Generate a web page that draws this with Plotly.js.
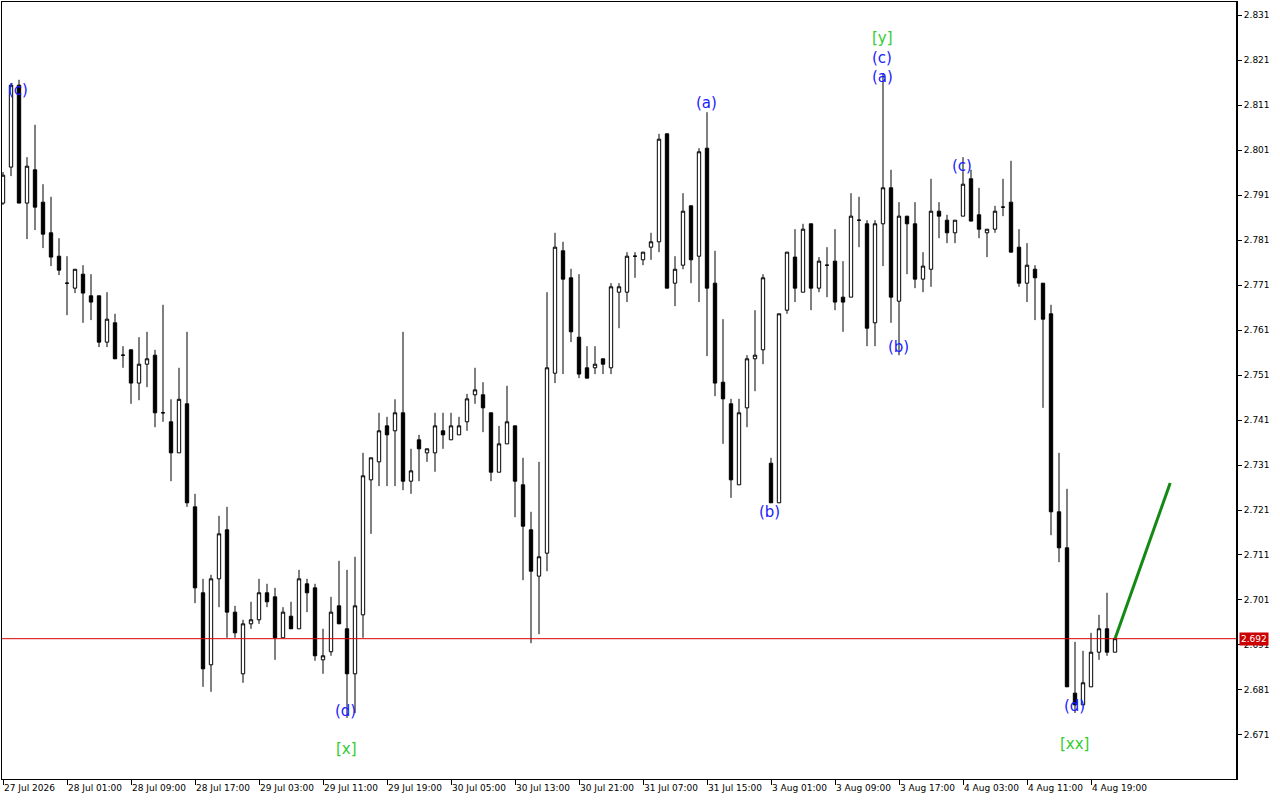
<!DOCTYPE html>
<html>
<head>
<meta charset="utf-8">
<script src="https://cdn.plot.ly/plotly-3.0.1.min.js"></script>
<style>html,body{margin:0;padding:0;background:#fff;}#chart{width:1280px;height:800px;}</style>
</head>
<body>
<div id="chart"></div>
<script>
const openP = [2.7892,2.7972,2.8154,2.7892,2.7966,2.7894,2.7826,2.7774,2.7714,2.7703,
2.7734,2.7686,2.7686,2.7583,2.7626,2.7554,2.7566,2.7492,2.7534,2.7554,
2.7426,2.7406,2.7337,2.7446,2.7217,2.7026,2.6866,2.7057,2.7166,2.6983,
2.6846,2.6957,2.6966,2.7026,2.7017,2.6926,2.6974,2.6946,2.7046,2.7037,
2.6877,2.6895,2.6997,2.6946,2.6846,2.6977,2.7277,2.7317,2.7397,2.7386,
2.7426,2.7274,2.7366,2.7337,2.7337,2.7386,2.7366,2.7377,2.7406,2.7466,
2.7466,2.7426,2.7294,2.7357,2.7397,2.7266,2.7166,2.7063,2.7114,2.7514,
2.7786,2.7726,2.7594,2.7526,2.7526,2.7546,2.7526,2.7694,2.7694,2.7774,
2.7766,2.7794,2.7806,2.8046,2.7714,2.7754,2.7886,2.7774,2.8014,2.7714,
2.7494,2.7446,2.7266,2.7437,2.7546,2.7566,2.7314,2.7226,2.7654,2.7772,
2.7694,2.7846,2.7703,2.7754,2.7763,2.7683,2.7683,2.7854,2.7846,2.7626,
2.7846,2.7926,2.7674,2.7863,2.7846,2.7723,2.7745,2.7874,2.7854,2.7826,
2.7863,2.7946,2.7866,2.7826,2.7834,2.7883,2.7894,2.7794,2.7714,2.7745,
2.7714,2.7646,2.7206,2.7126,2.6803,2.6777,2.6817,2.6894,2.6946,2.6894];
const highP = [2.7961,2.8159,2.8166,2.7994,2.8066,2.7934,2.7906,2.7814,2.7774,2.7745,
2.7754,2.7734,2.7686,2.7694,2.7646,2.7574,2.7566,2.7594,2.7606,2.7566,
2.7666,2.7456,2.7526,2.7606,2.7246,2.7057,2.7066,2.7197,2.7217,2.6997,
2.6966,2.7006,2.7057,2.7046,2.7037,2.6994,2.7006,2.7077,2.7057,2.7046,
2.6946,2.7017,2.7097,2.7077,2.7106,2.7337,2.7326,2.7426,2.7417,2.7456,
2.7606,2.7346,2.7377,2.7346,2.7426,2.7426,2.7426,2.7417,2.7468,2.7526,
2.7494,2.7426,2.7397,2.7486,2.7397,2.7326,2.7206,2.7317,2.7694,2.7826,
2.7806,2.7746,2.7734,2.7574,2.7574,2.7546,2.7714,2.7714,2.7783,2.7783,
2.7783,2.7826,2.8046,2.8046,2.7774,2.7914,2.7886,2.8014,2.8094,2.7786,
2.7634,2.7457,2.7457,2.7554,2.7654,2.7734,2.7326,2.7646,2.7783,2.7834,
2.7846,2.7846,2.7772,2.7794,2.7834,2.7763,2.7914,2.7906,2.7854,2.7854,
2.8181,2.7966,2.7894,2.7863,2.7894,2.7783,2.7946,2.7894,2.7866,2.7854,
2.7994,2.7966,2.7926,2.7834,2.7886,2.7946,2.7986,2.7834,2.7803,2.7754,
2.7714,2.7666,2.7337,2.7257,2.6917,2.6897,2.6937,2.6977,2.7026,2.6924];
const lowP = [2.7888,2.7952,2.7892,2.7812,2.7832,2.7792,2.7752,2.7732,2.7643,2.7692,
2.7626,2.7632,2.7572,2.7572,2.7546,2.7526,2.7446,2.7454,2.7483,2.7394,
2.7406,2.7274,2.7337,2.7217,2.7003,2.6817,2.6806,2.6994,2.6926,2.6926,
2.6826,2.6946,2.6957,2.6994,2.6877,2.6926,2.6946,2.6946,2.6983,2.6875,
2.6846,2.6886,2.6957,2.6748,2.6759,2.6926,2.7157,2.7263,2.7263,2.7263,
2.7254,2.7246,2.7274,2.7317,2.7295,2.7346,2.7366,2.7377,2.7386,2.7446,
2.7383,2.7274,2.7294,2.7357,2.7194,2.7054,2.6914,2.6934,2.7074,2.7492,
2.7512,2.7583,2.7503,2.7503,2.7512,2.7512,2.7512,2.7614,2.7672,2.7726,
2.7754,2.7766,2.7783,2.7703,2.7663,2.7745,2.7714,2.7672,2.7552,2.7463,
2.7357,2.7237,2.7266,2.7394,2.7474,2.7534,2.7226,2.7226,2.7646,2.7672,
2.7694,2.7654,2.7694,2.7683,2.7654,2.7606,2.7683,2.7794,2.7574,2.7574,
2.7752,2.7626,2.7554,2.7734,2.7703,2.7694,2.7706,2.7814,2.7803,2.7803,
2.7863,2.7852,2.7814,2.7772,2.7826,2.7863,2.7783,2.7706,2.7672,2.7632,
2.7437,2.7154,2.7094,2.6817,2.6759,2.6777,2.6817,2.6877,2.6886,2.6894];
const closeP = [2.7954,2.8154,2.7892,2.7974,2.7883,2.7823,2.7772,2.7743,2.7714,2.7745,
2.7692,2.7672,2.7583,2.7634,2.7546,2.7554,2.7492,2.7534,2.7546,2.7426,
2.7426,2.7337,2.7456,2.7226,2.7037,2.6857,2.7057,2.7157,2.6983,2.6937,
2.6957,2.6966,2.7026,2.7006,2.6926,2.6983,2.6946,2.7057,2.7026,2.6886,
2.6886,2.6983,2.6957,2.6846,2.6997,2.7286,2.7326,2.7386,2.7377,2.7426,
2.7274,2.7297,2.7346,2.7346,2.7397,2.7377,2.7397,2.7397,2.7457,2.7477,
2.7437,2.7294,2.7357,2.7406,2.7274,2.7174,2.7074,2.7106,2.7526,2.7794,
2.7723,2.7606,2.7512,2.7503,2.7534,2.7534,2.7706,2.7706,2.7774,2.7774,
2.7783,2.7806,2.8034,2.7703,2.7745,2.7874,2.7766,2.8006,2.7703,2.7492,
2.7457,2.7277,2.7426,2.7546,2.7554,2.7726,2.7226,2.7646,2.7783,2.7703,
2.7834,2.7703,2.7763,2.7754,2.7672,2.7672,2.7863,2.7854,2.7614,2.7846,
2.7926,2.7683,2.7863,2.7846,2.7723,2.7752,2.7874,2.7863,2.7826,2.7854,
2.7934,2.7852,2.7834,2.7834,2.7874,2.7883,2.7783,2.7714,2.7754,2.7726,
2.7634,2.7206,2.7126,2.6817,2.6777,2.6826,2.6894,2.6946,2.6894,2.6924];

const timeTickIdx = [0,8,16,24,32,40,48,56,64,72,80,88,96,104,112,120,128,136];
const timeTickText = ["27 Jul 2026","28 Jul 01:00","28 Jul 09:00","28 Jul 17:00","29 Jul 03:00",
"29 Jul 11:00","29 Jul 19:00","30 Jul 05:00","30 Jul 13:00","30 Jul 21:00","31 Jul 07:00",
"31 Jul 15:00","3 Aug 01:00","3 Aug 09:00","3 Aug 17:00","4 Aug 03:00","4 Aug 11:00","4 Aug 19:00"];
const priceTicks = [2.671,2.681,2.691,2.701,2.711,2.721,2.731,2.741,2.751,2.761,2.771,2.781,2.791,2.801,2.811,2.821,2.831];

const waveText  = ["(c)","(d)","[x]","(a)","(b)","[y]","(c)","(a)","(b)","(c)","(d)","[xx]"];
const waveIdx   = [1.9,42.75,42.9,87.9,95.75,109.9,109.9,109.9,111.9,119.9,133.9,133.9];
const wavePrice = [2.8143,2.6763,2.6679,2.8114,2.7206,2.8260,2.8215,2.8172,2.7572,2.7974,2.6774,2.6690];
const waveGreen = [false,false,true,false,false,true,false,false,false,false,false,true];

const projIdx = [139, 145.9];
const projPrice = [2.6924, 2.7270];
const lastPrice = 2.6924;
const lastPriceText = "2.692";

const xs = openP.map((_, i) => i);

const candles = {
  type: 'candlestick', x: xs, open: openP, high: highP, low: lowP, close: closeP,
  line: {width: 1},
  increasing: {line: {color: '#000000', width: 1}, fillcolor: '#ffffff'},
  decreasing: {line: {color: '#000000', width: 1}, fillcolor: '#000000'},
  whiskerwidth: 0, hoverinfo: 'skip', showlegend: false
};
const proj = {
  type: 'scatter', mode: 'lines', x: projIdx, y: projPrice,
  line: {color: '#138a13', width: 3}, hoverinfo: 'skip', showlegend: false
};

const annotations = waveText.map((t, i) => ({
  x: waveIdx[i], y: wavePrice[i], xref: 'x', yref: 'y', text: t, showarrow: false,
  font: {family: 'DejaVu Sans, sans-serif', size: 15, color: waveGreen[i] ? '#32cd32' : '#1a1aff'},
  xanchor: 'center', yanchor: 'middle'
}));
annotations.push({
  x: 1, xref: 'paper', y: lastPrice, yref: 'y', text: lastPriceText, showarrow: false,
  xanchor: 'left', yanchor: 'middle', xshift: 2, bgcolor: '#cc0000', borderpad: 1,
  font: {family: 'DejaVu Sans, sans-serif', size: 9, color: '#ffffff'}
});

const layout = {
  width: 1280, height: 800,
  margin: {l: 2, r: 43, t: 2, b: 21, pad: 0},
  paper_bgcolor: '#ffffff', plot_bgcolor: '#ffffff',
  showlegend: false, boxgap: 0.4,
  font: {family: 'DejaVu Sans, sans-serif', size: 9, color: '#000000'},
  xaxis: {
    range: [-0.125, 154.25], type: 'linear', rangeslider: {visible: false},
    showgrid: false, zeroline: false, showline: true, mirror: true,
    linecolor: '#000000', linewidth: 1,
    tickmode: 'array', tickvals: timeTickIdx, ticktext: timeTickText,
    ticks: 'outside', ticklen: 5, tickcolor: '#000000', tickwidth: 1,
    ticklabelposition: 'outside right', tickangle: 0, automargin: false,
    tickfont: {family: 'DejaVu Sans, sans-serif', size: 9, color: '#000000'}
  },
  yaxis: {
    range: [2.66122, 2.83389], side: 'right',
    showgrid: false, zeroline: false, showline: true, mirror: true,
    linecolor: '#000000', linewidth: 1,
    tickmode: 'array', tickvals: priceTicks, ticktext: priceTicks.map(v => v.toFixed(3)),
    ticks: 'outside', ticklen: 4, tickcolor: '#000000', tickwidth: 1,
    tickfont: {family: 'DejaVu Sans, sans-serif', size: 9, color: '#000000'}
  },
  shapes: [
    {type: 'line', xref: 'paper', x0: 0, x1: 1, yref: 'y', y0: lastPrice, y1: lastPrice,
     line: {color: '#dd0000', width: 1}},
    {type: 'line', xref: 'paper', x0: 1, x1: 1, yref: 'paper', y0: 0, y1: 1,
     line: {color: '#000000', width: 2}}
  ],
  annotations: annotations
};

Plotly.newPlot('chart', [candles, proj], layout, {displayModeBar: false, staticPlot: true});
</script>
</body>
</html>
